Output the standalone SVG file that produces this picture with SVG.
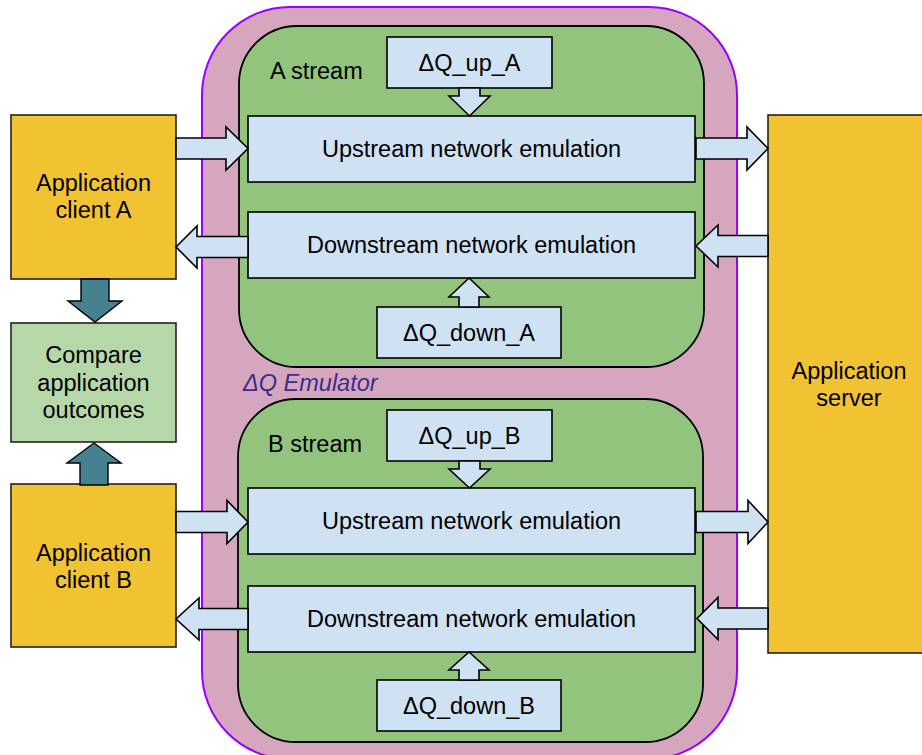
<svg xmlns="http://www.w3.org/2000/svg" width="922" height="755" viewBox="0 0 922 755">
<style>
text{font-family:"Liberation Sans",Arial,sans-serif;font-size:23.5px;fill:#000}
.c{text-anchor:middle}
.box{fill:#cfe2f3;stroke:#000;stroke-width:1.6}
.app{fill:#f1c232;stroke:#222;stroke-width:1.6}
.grn{fill:#93c47d;stroke:#000;stroke-width:1.8}
.arr{fill:#cfe2f3;stroke:#000;stroke-width:1.6;stroke-linejoin:miter}
.teal{fill:#45818e;stroke:#000;stroke-width:1.4}
.emu{font-style:italic;fill:#3f2c8e}
</style>
<rect width="922" height="755" fill="#fff"/>
<g id="emulator">
<rect x="202" y="7" width="535" height="752" rx="88" ry="88" fill="#d5a6bd" stroke="#9900ff" stroke-width="2"/>
<text class="emu" x="243" y="391">ΔQ Emulator</text>
</g>
<g id="a-stream">
<rect class="grn" x="239" y="26" width="465" height="341" rx="58" ry="58"/>
<text x="270" y="79">A stream</text>
</g>
<g id="b-stream">
<rect class="grn" x="238" y="399" width="465" height="343" rx="58" ry="58"/>
<text x="268" y="452">B stream</text>
</g>
<g id="dq-up-a"><rect class="box" x="387" y="37" width="165" height="51"/><text class="c" x="469.5" y="71">ΔQ_up_A</text></g>
<g id="upstream-a"><rect class="box" x="248" y="116" width="447" height="66"/><text class="c" x="471.5" y="157">Upstream network emulation</text></g>
<g id="downstream-a"><rect class="box" x="248" y="212" width="447" height="66"/><text class="c" x="471.5" y="253">Downstream network emulation</text></g>
<g id="dq-down-a"><rect class="box" x="377" y="307" width="184" height="51"/><text class="c" x="469" y="341">ΔQ_down_A</text></g>
<g id="dq-up-b"><rect class="box" x="387" y="410" width="165" height="51"/><text class="c" x="469.5" y="444">ΔQ_up_B</text></g>
<g id="upstream-b"><rect class="box" x="248" y="488" width="447" height="66"/><text class="c" x="471.5" y="529">Upstream network emulation</text></g>
<g id="downstream-b"><rect class="box" x="248" y="586" width="447" height="66"/><text class="c" x="471.5" y="627">Downstream network emulation</text></g>
<g id="dq-down-b"><rect class="box" x="377" y="680" width="184" height="51"/><text class="c" x="469" y="714">ΔQ_down_B</text></g>
<g id="client-a"><rect class="app" x="11" y="115" width="165" height="164"/><text class="c" x="93.5" y="191">Application</text><text class="c" x="93.5" y="218">client A</text></g>
<g id="compare"><rect x="11" y="323" width="165" height="119" fill="#b6d7a8" stroke="#222" stroke-width="1.6"/><text class="c" x="93.5" y="363">Compare</text><text class="c" x="93.5" y="391">application</text><text class="c" x="93.5" y="418">outcomes</text></g>
<g id="client-b"><rect class="app" x="11" y="484" width="165" height="163"/><text class="c" x="93.5" y="561">Application</text><text class="c" x="93.5" y="588">client B</text></g>
<g id="server"><rect class="app" x="768" y="115" width="160" height="538"/><text class="c" x="849" y="379">Application</text><text class="c" x="849" y="406">server</text></g>
<g id="connectors">
<polygon class="arr" points="176,138 226,138 226,127 248,148.5 226,170 226,159 176,159"/>
<polygon class="arr" points="248,236.5 197,236.5 197,226 176,247 197,268 197,257.5 248,257.5"/>
<polygon class="arr" points="696,138 747,138 747,127 768,148.5 747,170 747,159 696,159"/>
<polygon class="arr" points="768,235.5 718,235.5 718,225 696,246 718,267 718,256.5 768,256.5"/>
<polygon class="arr" points="176,511.5 227,511.5 227,500.5 248,522 227,543.5 227,532.5 176,532.5"/>
<polygon class="arr" points="248,608.5 199,608.5 199,598 176,619 199,640 199,629.5 248,629.5"/>
<polygon class="arr" points="696,511.5 748,511.5 748,500.5 768,522 748,543.5 748,532.5 696,532.5"/>
<polygon class="arr" points="768,608 718,608 718,597.5 697,618.5 718,639.5 718,629 768,629"/>
<polygon class="arr" points="459,88 480,88 480,96 490,96 469.5,116 449,96 459,96"/>
<polygon class="arr" points="459,307 479,307 479,297 489,297 469,278 449,297 459,297"/>
<polygon class="arr" points="459,461 480,461 480,469 490,469 469.5,488 449,469 459,469"/>
<polygon class="arr" points="459,680 479,680 479,670 489,670 469,652 449,670 459,670"/>
<polygon class="teal" points="81,279 109,279 109,301 122,301 95,322 68,301 81,301"/>
<polygon class="teal" points="80,485 108,485 108,463 121,463 94,443 67,463 80,463"/>
</g>
</svg>
